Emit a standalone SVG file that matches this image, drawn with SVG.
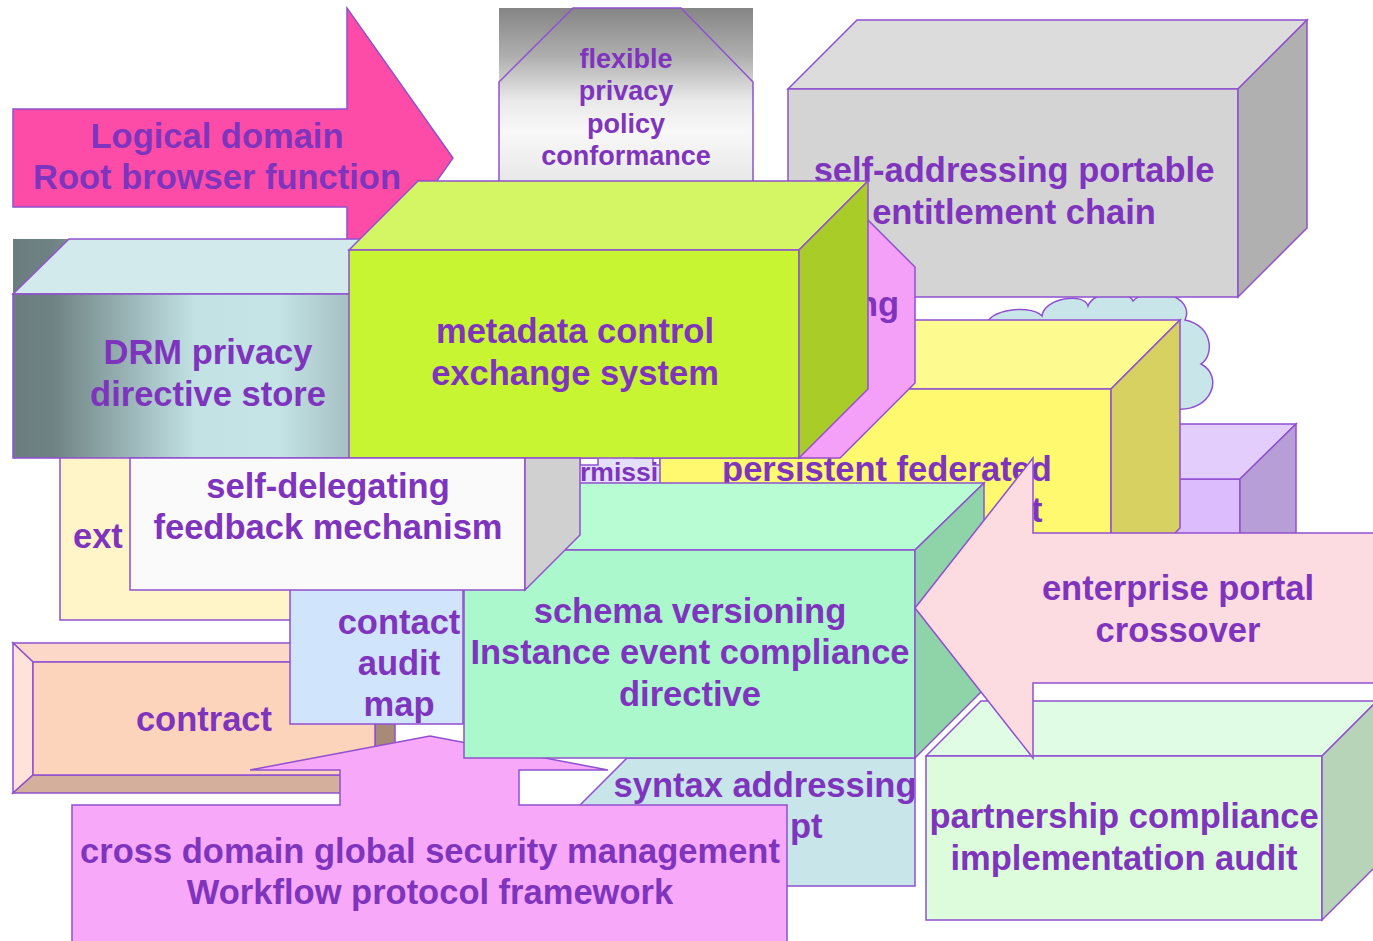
<svg xmlns="http://www.w3.org/2000/svg" width="1373" height="941" viewBox="0 0 1373 941">
<defs>
<style>
.s{stroke:#9050cf;stroke-width:1.5;stroke-linejoin:miter}
.t{font-family:"Liberation Sans",Arial,Helvetica,sans-serif;font-weight:bold;font-size:34.5px;fill:#7f34be;text-anchor:middle}
.st{text-anchor:start}
.sm{font-size:27px}
.xs{font-size:26.5px}
</style>
<linearGradient id="gFlex" gradientUnits="userSpaceOnUse" x1="0" y1="8" x2="0" y2="255">
<stop offset="0" stop-color="#858585"/>
<stop offset="0.2" stop-color="#b0b0b0"/>
<stop offset="0.37" stop-color="#e8e8e8"/>
<stop offset="0.5" stop-color="#f8f8f8"/>
<stop offset="0.7" stop-color="#e8e8e8"/>
<stop offset="1" stop-color="#dcdcdc"/>
</linearGradient>
<linearGradient id="gDrm" gradientUnits="userSpaceOnUse" x1="13" y1="0" x2="403" y2="0">
<stop offset="0" stop-color="#6b7d7e"/>
<stop offset="0.1" stop-color="#6f8283"/>
<stop offset="0.27" stop-color="#94aeb0"/>
<stop offset="0.47" stop-color="#c2e2e4"/>
<stop offset="0.68" stop-color="#c4e4e6"/>
<stop offset="0.85" stop-color="#a8c2c4"/>
<stop offset="1" stop-color="#8ea6a8"/>
</linearGradient>
</defs>
<rect width="1373" height="941" fill="#ffffff"/>

<g id="cloud">
<path class="s" fill="#c8e6ea" d="M988,330 C978,312 1028,302 1042,316 C1044,298 1084,292 1088,306 C1094,290 1128,289 1133,301 C1150,283 1196,296 1185,320 C1214,326 1214,356 1201,364 C1224,376 1212,412 1176,409 L1100,420 L990,400 Z"/>
</g>

<g id="lavender-box">
<polygon class="s" fill="#dcbcfc" points="1110,479 1240,479 1240,600 1110,600"/>
<polygon class="s" fill="#e2cdfc" points="1110,479 1165,424 1296,424 1240,479"/>
<polygon class="s" fill="#b89ed6" points="1240,479 1296,424 1296,545 1240,600"/>
</g>

<g id="flexible">
<rect x="499" y="8" width="254" height="247" fill="url(#gFlex)"/>
<polygon class="s" fill="url(#gFlex)" points="573,8 681,8 753,82 753,255 499,255 499,82"/>
<text class="t sm" x="626" y="68">flexible</text>
<text class="t sm" x="626" y="100">privacy</text>
<text class="t sm" x="626" y="133">policy</text>
<text class="t sm" x="626" y="165">conformance</text>
</g>

<g id="entitlement">
<polygon class="s" fill="#dcdcdc" points="788,89 857,20 1307,20 1238,89"/>
<rect class="s" fill="#d4d4d4" x="788" y="89" width="450" height="208"/>
<polygon class="s" fill="#b0b0b0" points="1238,89 1307,20 1307,228 1238,297"/>
<text class="t" x="1014" y="182">self-addressing portable</text>
<text class="t" x="1014" y="224">entitlement chain</text>
</g>

<g id="permission">
<rect class="s" fill="#e4e0fc" x="570" y="452" width="92" height="45"/>
<rect class="s" fill="#ffffff" x="580" y="458" width="18" height="7"/>
<rect class="s" fill="#ffffff" x="653" y="458" width="7" height="7"/>
<text class="t st xs" x="580" y="481">rmissi</text>
</g>

<g id="federated">
<polygon class="s" fill="#fdfa8f" points="660,389 729,320 1180,320 1111,389"/>
<rect class="s" fill="#fef96e" x="660" y="389" width="451" height="208"/>
<polygon class="s" fill="#d6d160" points="1111,389 1180,320 1180,528 1111,597"/>
<text class="t" x="887" y="481">persistent federated</text>
<text class="t st" x="1031" y="522">t</text>
</g>

<g id="pink-octagon">
<polygon class="s" fill="#f4a0f8" points="635,192 840,192 915,267 915,383 840,458 635,458 560,383 560,267"/>
<text class="t st" x="857" y="316">ng</text>
</g>

<g id="ext-box">
<rect class="s" fill="#fff5c8" x="60" y="430" width="360" height="190"/>
<text class="t st" x="73" y="548">ext</text>
</g>

<g id="logical-arrow">
<polygon class="s" fill="#fd4ca7" points="13,109 347,109 347,8 453,158 347,308 347,207 13,207"/>
<text class="t" x="217" y="148">Logical domain</text>
<text class="t" x="217" y="189">Root browser function</text>
</g>

<g id="drm">
<polygon fill="url(#gDrm)" points="13,239 69,239 13,294"/>
<polygon class="s" fill="#d2eaec" points="13,294 69,239 458,239 403,294"/>
<rect class="s" fill="url(#gDrm)" x="13" y="294" width="390" height="164"/>
<polygon class="s" fill="#8ea6a8" points="403,294 458,239 458,403 403,458"/>
<text class="t" x="208" y="364">DRM privacy</text>
<text class="t" x="208" y="406">directive store</text>
</g>

<g id="metadata">
<polygon class="s" fill="#d4f564" points="349,250 418,181 868,181 799,250"/>
<rect class="s" fill="#c8f532" x="349" y="250" width="450" height="208"/>
<polygon class="s" fill="#aacc28" points="799,250 868,181 868,389 799,458"/>
<text class="t" x="575" y="343">metadata control</text>
<text class="t" x="575" y="385">exchange system</text>
</g>

<g id="contract">
<rect fill="#fcd4bc" x="13" y="643" width="382" height="150"/>
<polygon class="s" fill="#fcd8c8" points="13,643 395,643 375,662 33,662"/>
<polygon class="s" fill="#ffe2da" points="13,643 33,662 33,775 13,793"/>
<polygon class="s" fill="#d4b09c" points="13,793 33,775 375,775 395,793"/>
<polygon class="s" fill="#a88a78" points="395,643 395,793 375,775 375,662"/>
<rect class="s" fill="#fcd4bc" x="33" y="662" width="342" height="113"/>
<text class="t" x="204" y="731">contract</text>
</g>

<g id="contact">
<rect class="s" fill="#d0e4fc" x="290" y="540" width="173" height="184"/>
<text class="t" x="399" y="634">contact</text>
<text class="t" x="399" y="675">audit</text>
<text class="t" x="399" y="716">map</text>
</g>

<g id="syntax">
<polygon class="s" fill="#c8e6ea" points="627,758 915,758 915,886 580,886 580,805"/>
<text class="t" x="765" y="797">syntax addressing</text>
<text class="t st" x="790" y="838">pt</text>
</g>

<g id="cross-domain">
<polygon class="s" fill="#f8a8f8" points="72,805 340,805 340,770 250,770 430,736 608,770 519,770 519,805 787,805 787,945 72,945"/>
<text class="t" x="430" y="863">cross domain global security management</text>
<text class="t" x="430" y="904">Workflow protocol framework</text>
</g>

<g id="schema">
<polygon class="s" fill="#b8fcd4" points="464,550 533,483 984,483 915,550"/>
<rect class="s" fill="#aaf8cc" x="464" y="550" width="451" height="208"/>
<polygon class="s" fill="#8ed4a8" points="915,550 984,483 984,689 915,758"/>
<text class="t" x="690" y="623">schema versioning</text>
<text class="t" x="690" y="664">Instance event compliance</text>
<text class="t" x="690" y="706">directive</text>
</g>

<g id="self-delegating">
<rect class="s" fill="#fafafa" x="130" y="458" width="395" height="132"/>
<polygon class="s" fill="#d0d0d0" points="525,458 580,458 580,535 525,590"/>
<text class="t" x="328" y="498">self-delegating</text>
<text class="t" x="328" y="539">feedback mechanism</text>
</g>

<g id="partnership">
<polygon class="s" fill="#e0fce4" points="926,756 981,701 1377,701 1322,756"/>
<rect class="s" fill="#dcfcdc" x="926" y="756" width="396" height="164"/>
<polygon class="s" fill="#b8d4b8" points="1322,756 1377,701 1377,865 1322,920"/>
<text class="t" x="1124" y="828">partnership compliance</text>
<text class="t" x="1124" y="870">implementation audit</text>
</g>

<g id="enterprise-arrow">
<polygon class="s" fill="#fcdce0" points="915,608 1033,458 1033,533 1380,533 1380,683 1033,683 1033,758"/>
<text class="t" x="1178" y="600">enterprise portal</text>
<text class="t" x="1178" y="642">crossover</text>
</g>

<g id="connectors"></g>
</svg>
